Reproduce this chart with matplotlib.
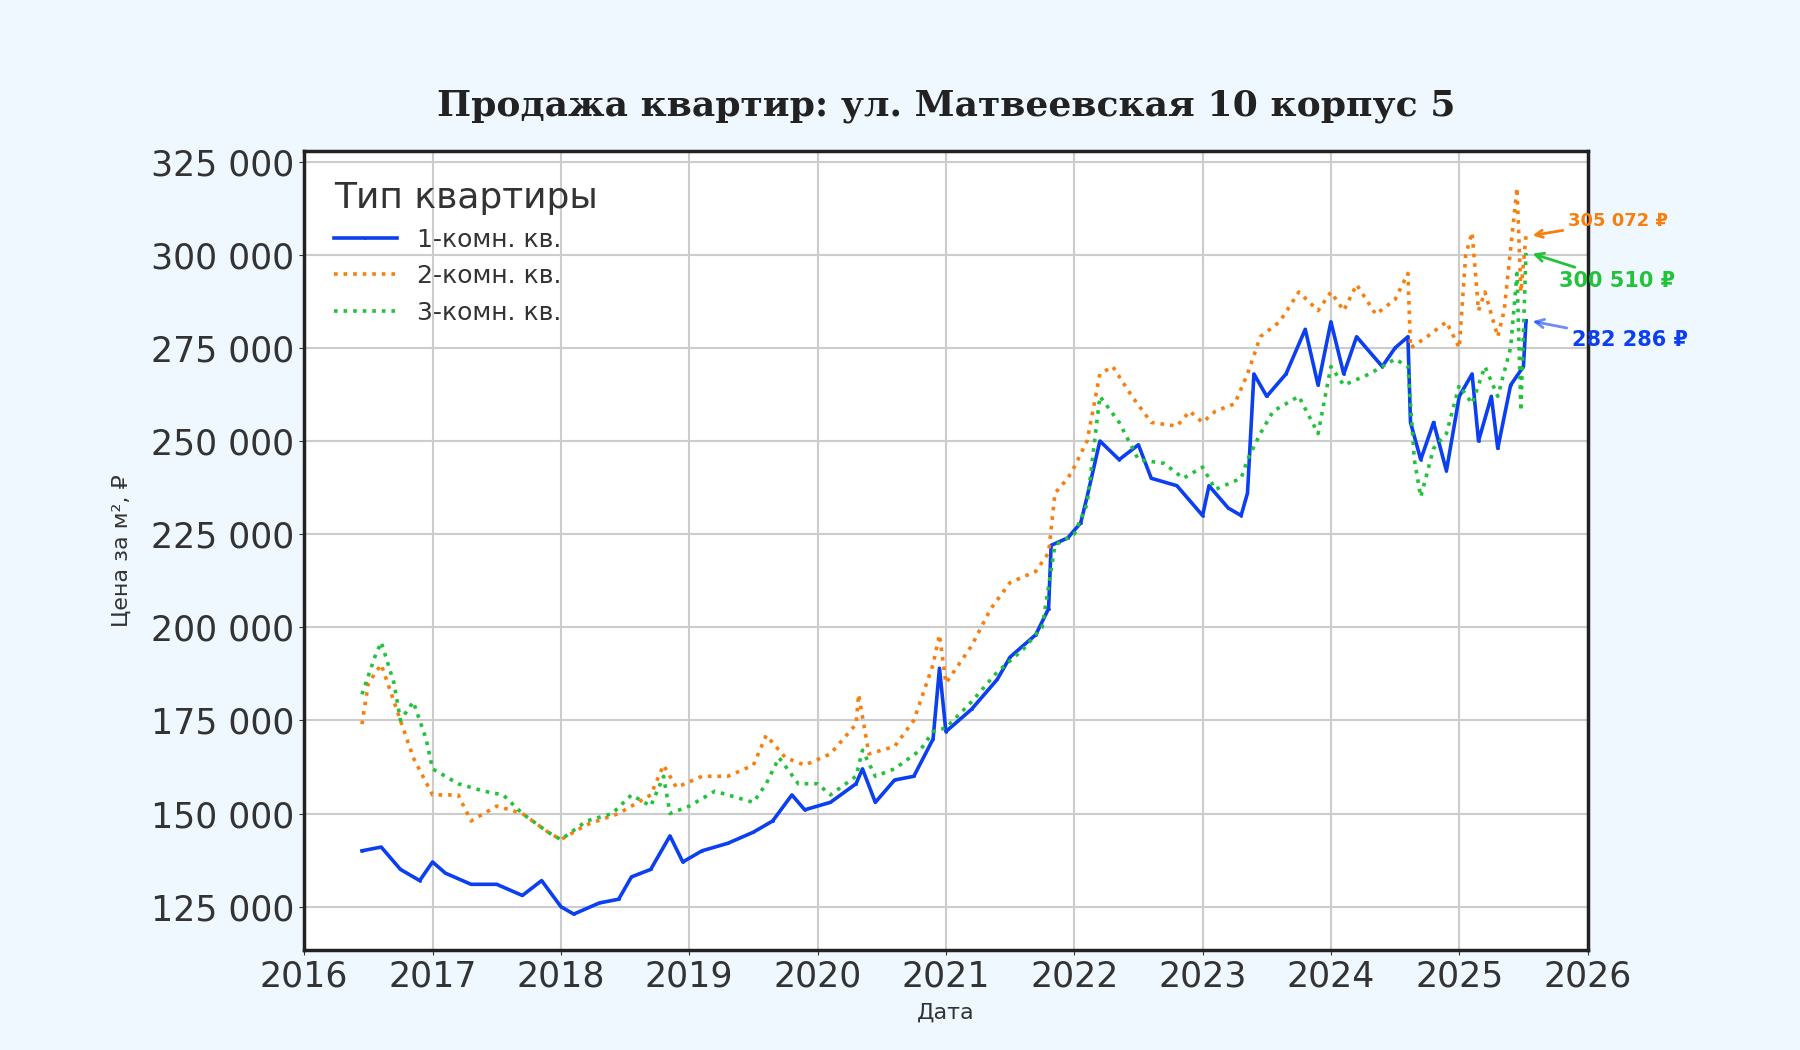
import matplotlib
matplotlib.use("Agg")
import matplotlib.pyplot as plt
from matplotlib.ticker import FuncFormatter

t1 = [2016.45,2016.6,2016.75,2016.9,2017.0,2017.1,2017.3,2017.5,2017.7,2017.85,2018.0,2018.1,2018.3,2018.45,2018.55,2018.7,2018.85,2018.95,2019.1,2019.3,2019.5,2019.65,2019.8,2019.9,2020.1,2020.3,2020.35,2020.45,2020.6,2020.75,2020.9,2020.95,2021.0,2021.2,2021.4,2021.5,2021.7,2021.8,2021.82,2021.95,2022.05,2022.1,2022.2,2022.35,2022.5,2022.6,2022.8,2022.9,2023.0,2023.05,2023.2,2023.3,2023.35,2023.4,2023.5,2023.65,2023.8,2023.9,2024.0,2024.1,2024.2,2024.4,2024.5,2024.6,2024.62,2024.7,2024.8,2024.9,2025.0,2025.1,2025.15,2025.25,2025.3,2025.4,2025.5,2025.52]
v1 = [140000,141000,135000,132000,137000,134000,131000,131000,128000,132000,125000,123000,126000,127000,133000,135000,144000,137000,140000,142000,145000,148000,155000,151000,153000,158000,162000,153000,159000,160000,170000,189000,172000,178000,186000,192000,198000,205000,222000,224000,228000,235000,250000,245000,249000,240000,238000,234000,230000,238000,232000,230000,236000,268000,262000,268000,280000,265000,282000,268000,278000,270000,275000,278000,255000,245000,255000,242000,262000,268000,250000,262000,248000,265000,270000,282286]

t2 = [2016.45,2016.5,2016.6,2016.7,2016.85,2017.0,2017.2,2017.3,2017.5,2017.7,2017.9,2018.0,2018.2,2018.45,2018.7,2018.8,2018.9,2019.1,2019.3,2019.5,2019.6,2019.75,2019.9,2020.1,2020.3,2020.32,2020.4,2020.6,2020.75,2020.9,2020.95,2021.0,2021.2,2021.35,2021.5,2021.7,2021.8,2021.85,2021.95,2022.0,2022.1,2022.2,2022.3,2022.45,2022.6,2022.8,2022.9,2023.0,2023.1,2023.25,2023.35,2023.45,2023.6,2023.75,2023.9,2024.0,2024.1,2024.2,2024.35,2024.5,2024.6,2024.62,2024.75,2024.9,2025.0,2025.05,2025.1,2025.15,2025.2,2025.3,2025.35,2025.45,2025.48,2025.52]
v2 = [174000,185000,190000,180000,165000,155000,155000,148000,152000,150000,145000,143000,147000,150000,155000,163000,157000,160000,160000,163000,171000,165000,163000,166000,174000,182000,166000,168000,175000,190000,198000,185000,195000,205000,212000,215000,220000,236000,240000,243000,250000,268000,270000,262000,255000,254000,258000,255000,258000,260000,268000,278000,282000,290000,285000,290000,285000,292000,284000,288000,295000,275000,278000,282000,275000,300000,306000,285000,290000,278000,285000,318000,290000,305072]

t3 = [2016.45,2016.55,2016.6,2016.7,2016.75,2016.85,2016.95,2017.0,2017.2,2017.4,2017.55,2017.7,2017.9,2018.0,2018.2,2018.4,2018.55,2018.7,2018.8,2018.85,2019.0,2019.2,2019.4,2019.5,2019.6,2019.7,2019.85,2020.0,2020.1,2020.3,2020.35,2020.45,2020.6,2020.8,2020.9,2021.0,2021.2,2021.4,2021.6,2021.75,2021.85,2022.0,2022.1,2022.2,2022.35,2022.5,2022.7,2022.85,2023.0,2023.1,2023.3,2023.35,2023.45,2023.55,2023.75,2023.9,2024.0,2024.1,2024.3,2024.5,2024.6,2024.65,2024.7,2024.8,2024.9,2025.0,2025.1,2025.2,2025.3,2025.4,2025.45,2025.48,2025.52]
v3 = [182000,192000,196000,185000,175000,180000,170000,162000,158000,156000,155000,150000,145000,143000,148000,150000,155000,152000,160000,150000,152000,156000,154000,153000,158000,165000,158000,158000,155000,160000,167000,160000,162000,167000,172000,173000,180000,188000,194000,200000,222000,225000,233000,262000,255000,245000,244000,240000,243000,237000,240000,245000,252000,258000,262000,252000,270000,265000,268000,272000,270000,245000,235000,248000,252000,265000,260000,270000,262000,275000,295000,258000,300510]

labels = ["1-комн. кв.", "2-комн. кв.", "3-комн. кв."]
colors = ["#0b3ff0", "#f77f0e", "#22c23a"]

def fmt(v):
    return f"{int(round(v)):,}".replace(",", " ")

fig = plt.figure(figsize=(18, 10.5), dpi=100, facecolor="#f0f8ff")
ax = fig.add_axes([0.169, 0.095, 0.713, 0.761])
ax.set_facecolor("white")
ax.plot(t1, v1, color=colors[0], lw=2.6, label=labels[0], marker=".", markersize=2)
ax.plot(t2, v2, color=colors[1], lw=2.6, ls=":", label=labels[1])
ax.plot(t3, v3, color=colors[2], lw=2.6, ls=":", label=labels[2])
ax.set_xlim(2016, 2026)
ax.set_ylim(113300, 327800)
ax.set_xticks(range(2016, 2027))
ax.set_yticks(range(125000, 325001, 25000))
ax.yaxis.set_major_formatter(FuncFormatter(lambda v, p: fmt(v)))
ax.tick_params(labelsize=25, colors="#333333")
ax.grid(True, color="#cccccc", lw=1.5)
for s in ax.spines.values():
    s.set_linewidth(2.5); s.set_color("#222222")
ax.set_xlabel("Дата", fontsize=16, color="#333333", labelpad=6)
ax.set_ylabel("Цена за м², ₽", fontsize=16, color="#333333", labelpad=14)
ax.set_title("Продажа квартир: ул. Матвеевская 10 корпус 5", family="DejaVu Serif",
             fontweight="bold", fontsize=26, pad=26, color="#222222")
leg = ax.legend(title="Тип квартиры", loc="upper left", fontsize=18, title_fontsize=26,
                frameon=False, handlelength=2.5, borderaxespad=0.8)
leg._legend_box.align = "left"
for tx in leg.get_texts():
    tx.set_color("#333333")
leg.get_title().set_color("#333333")

ends = [(t1[-1], v1[-1], 2025.88, 277000, 15), (t2[-1], v2[-1], 2025.85, 309000, 13), (t3[-1], v3[-1], 2025.78, 293000, 15)]
for (x, y, tx, ty, fs), c in zip(ends, colors):
    ax.annotate(fmt(y) + " ₽", xy=(x + 0.03, y), xytext=(tx, ty), color=c, fontsize=fs,
                fontweight="bold", ha="left", va="center", annotation_clip=False,
                arrowprops=dict(arrowstyle="->", color=c, lw=2, alpha=0.6 if c == colors[0] else 1))
fig.savefig("out.png", dpi=100, facecolor=fig.get_facecolor())
